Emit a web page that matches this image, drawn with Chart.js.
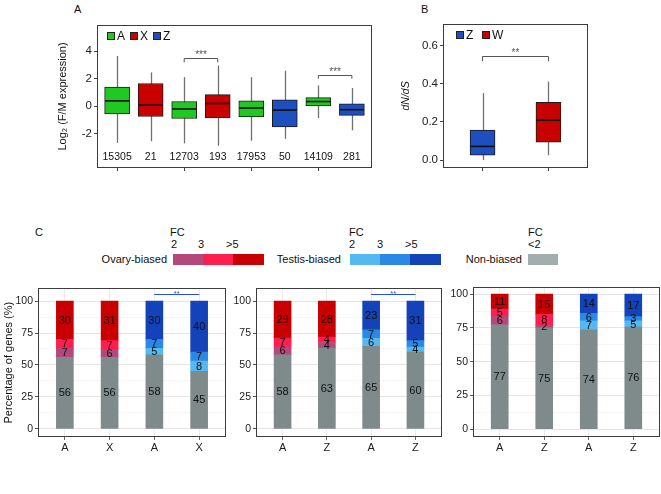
<!DOCTYPE html>
<html>
<head>
<meta charset="utf-8">
<script src="https://cdn.jsdelivr.net/npm/chart.js@4.4.0/dist/chart.umd.min.js"></script>
<style>
body { margin:0; width:661px; height:494px; position:relative; background:#fff; overflow:hidden;
       font-family:"Liberation Sans", Arial, sans-serif; }
canvas, .t, .sw { position:absolute; }
.t { font-size:11px; color:#111; line-height:11px; white-space:nowrap; }
.r { text-align:right; }
.sw { height:11px; }
</style>
</head>
<body>
<div class="t" style="left:74px;top:4px">A</div>
<div class="t" style="left:421px;top:4px">B</div>
<div class="t" style="left:35px;top:227px">C</div>

<!-- panel C legend -->
<div class="t" style="left:170px;top:227px">FC</div>
<div class="t" style="left:171px;top:239px">2</div>
<div class="t" style="left:198px;top:239px">3</div>
<div class="t" style="left:226px;top:239px">&gt;5</div>
<div class="t r" style="left:67px;width:100px;top:254px">Ovary-biased</div>
<div class="sw" style="left:173px;width:30px;top:254px;background:#b3497a"></div>
<div class="sw" style="left:203px;width:30px;top:254px;background:#ff1f4f"></div>
<div class="sw" style="left:233px;width:31px;top:254px;background:#c80000"></div>

<div class="t" style="left:349px;top:227px">FC</div>
<div class="t" style="left:349px;top:239px">2</div>
<div class="t" style="left:377px;top:239px">3</div>
<div class="t" style="left:405px;top:239px">&gt;5</div>
<div class="t r" style="left:241px;width:100px;top:254px">Testis-biased</div>
<div class="sw" style="left:350px;width:30px;top:254px;background:#56b8f0"></div>
<div class="sw" style="left:380px;width:30px;top:254px;background:#2b88e4"></div>
<div class="sw" style="left:410px;width:31px;top:254px;background:#1442b8"></div>

<div class="t" style="left:528px;top:227px">FC</div>
<div class="t" style="left:528px;top:239px">&lt;2</div>
<div class="t r" style="left:422px;width:100px;top:254px">Non-biased</div>
<div class="sw" style="left:528px;width:30px;top:254px;background:#a3adad"></div>

<canvas id="chartA" width="320" height="180" style="left:56px;top:16px"></canvas>
<canvas id="chartB" width="192" height="181" style="left:400px;top:15px"></canvas>
<canvas id="chartC1" width="230" height="176" style="left:0px;top:280px"></canvas>
<canvas id="chartC2" width="220" height="176" style="left:226px;top:280px"></canvas>
<canvas id="chartC3" width="215" height="177" style="left:446px;top:279px"></canvas>

<script>
// ---- panel A: log2 F/M expression boxes ----
var aGroups = ['A', 'X', 'A', 'X', 'A', 'Z', 'A', 'Z'];
var aWhiskLo = [-2.67, -2.55, -2.71, -2.88, -2.52, -2.38, -0.88, -1.76];
var aQ1 = [-0.57, -0.76, -0.90, -0.86, -0.79, -1.52, 0.02, -0.67];
var aMedian = [0.38, 0.07, -0.21, 0.19, -0.14, -0.29, 0.33, -0.26];
var aQ3 = [1.38, 1.64, 0.33, 0.83, 0.38, 0.45, 0.62, 0.17];
var aWhiskHi = [3.64, 2.45, 2.10, 2.95, 2.10, 2.57, 1.50, 1.31];
var aCounts = ['15305', '21', '12703', '193', '17953', '50', '14109', '281'];
var aSig = [{from: 2, to: 3, y: 3.48, drop: 0.3, label: '***'},
            {from: 6, to: 7, y: 2.29, drop: 0.3, label: '***'}];

// ---- panel B: dN/dS ----
var bGroups = ['Z', 'W'];
var bWhiskLo = [0.0, 0.026];
var bQ1 = [0.026, 0.094];
var bMedian = [0.072, 0.209];
var bQ3 = [0.158, 0.303];
var bWhiskHi = [0.351, 0.411];
var bSig = [{from: 0, to: 1, y: 0.543, drop: 0.025, label: '**'}];

// ---- panel C: percentage of sex-biased genes ----
// bars: ovary A, ovary X/Z, testis A, testis X/Z (segment heights as read, labels are rounded)
var turtleLabels = ['A', 'X', 'A', 'X'];
var turtleNon = [56, 56, 58, 45];
var turtleFc2 = [7, 6, 5, 8];
var turtleFc3 = [7, 7, 7, 7];
var turtleFc5 = [30, 31, 30, 40];

var newtLabels = ['A', 'Z', 'A', 'Z'];
var newtNon = [58, 63.3, 64.6, 60];
var newtFc2 = [6, 4.3, 6.3, 4];
var newtFc3 = [7, 4.3, 6.6, 5];
var newtFc5 = [29, 28.1, 22.5, 31];

var lizardLabels = ['A', 'Z', 'A', 'Z'];
var lizardNon = [77.3, 75, 73.6, 75.6];
var lizardFc2 = [6.3, 2, 6.6, 4.6];
var lizardFc3 = [5.3, 8, 5.6, 3.2];
var lizardFc5 = [11.1, 15, 14.2, 16.6];

var groupColors = {A: '#22c822', X: '#c80000', Z: '#1f4fbf', W: '#c80000'};
var ovaryCols = ['#b3497a', '#ff1f4f', '#c80000'];
var testisCols = ['#56b8f0', '#2b88e4', '#1442b8'];
var grayCol = '#7f8b8b';

Chart.defaults.font.family = '"Liberation Sans", Arial, sans-serif';
Chart.defaults.color = '#222';

var framePlugin = {
  id: 'frame',
  afterDraw: function(chart) {
    var a = chart.chartArea, ctx = chart.ctx;
    ctx.save();
    ctx.strokeStyle = '#3c3c3c';
    ctx.lineWidth = 1;
    ctx.strokeRect(Math.round(a.left) + 0.5, Math.round(a.top) + 0.5,
                   Math.round(a.right - a.left) - 1, Math.round(a.bottom - a.top) - 1);
    ctx.restore();
  }
};

function boxPlugin(lo, med, hi) {
  return {
    id: 'boxes',
    beforeDatasetsDraw: function(chart) {
      var ctx = chart.ctx, x = chart.scales.x, y = chart.scales.y;
      ctx.save();
      ctx.strokeStyle = '#707070';
      ctx.lineWidth = 1.3;
      lo.forEach(function(v, i) {
        var px = Math.round(x.getPixelForValue(i)) + 0.5;
        ctx.beginPath();
        ctx.moveTo(px, y.getPixelForValue(hi[i]));
        ctx.lineTo(px, y.getPixelForValue(v));
        ctx.stroke();
      });
      ctx.restore();
    },
    afterDatasetsDraw: function(chart) {
      var ctx = chart.ctx, x = chart.scales.x, y = chart.scales.y;
      ctx.save();
      ctx.strokeStyle = '#111';
      ctx.lineWidth = 1.6;
      med.forEach(function(v, i) {
        var px = x.getPixelForValue(i), py = y.getPixelForValue(v);
        ctx.beginPath();
        ctx.moveTo(px - 12, py);
        ctx.lineTo(px + 12, py);
        ctx.stroke();
      });
      ctx.restore();
    }
  };
}

function sigPlugin(list, color, fontSize, gap) {
  return {
    id: 'sig',
    afterDatasetsDraw: function(chart) {
      var ctx = chart.ctx, x = chart.scales.x, y = chart.scales.y;
      ctx.save();
      ctx.strokeStyle = color;
      ctx.fillStyle = color;
      ctx.lineWidth = 1;
      ctx.font = fontSize + 'px "Liberation Sans", Arial, sans-serif';
      ctx.textAlign = 'center';
      ctx.textBaseline = 'alphabetic';
      list.forEach(function(s) {
        var x0 = x.getPixelForValue(s.from), x1 = x.getPixelForValue(s.to);
        var py = Math.round(y.getPixelForValue(s.y)) + 0.5;
        var pd = y.getPixelForValue(s.y - s.drop);
        ctx.beginPath();
        ctx.moveTo(x0, pd);
        ctx.lineTo(x0, py);
        ctx.lineTo(x1, py);
        ctx.lineTo(x1, pd);
        ctx.stroke();
        ctx.fillText(s.label, (x0 + x1) / 2, py + gap);
      });
      ctx.restore();
    }
  };
}

function insideLegend(names, dx, step) {
  return {
    id: 'inlegend',
    afterDraw: function(chart) {
      var ctx = chart.ctx, a = chart.chartArea;
      ctx.save();
      ctx.font = '12px "Liberation Sans", Arial, sans-serif';
      ctx.textBaseline = 'middle';
      names.forEach(function(n, i) {
        var lx = Math.round(a.left + dx + i * step), ly = Math.round(a.top + 11);
        ctx.fillStyle = groupColors[n];
        ctx.fillRect(lx, ly - 4, 8, 8);
        ctx.strokeStyle = '#222';
        ctx.lineWidth = 1;
        ctx.strokeRect(lx + 0.5, ly - 3.5, 7, 7);
        ctx.fillStyle = '#111';
        ctx.fillText(n, lx + 10, ly + 0.5);
      });
      ctx.restore();
    }
  };
}

var countPlugin = {
  id: 'counts',
  afterDatasetsDraw: function(chart) {
    var ctx = chart.ctx, x = chart.scales.x, y = chart.scales.y;
    ctx.save();
    ctx.fillStyle = '#111';
    ctx.font = '10.5px "Liberation Sans", Arial, sans-serif';
    ctx.textAlign = 'center';
    ctx.textBaseline = 'middle';
    aCounts.forEach(function(c, i) {
      ctx.fillText(c, x.getPixelForValue(i), y.getPixelForValue(-3.71));
    });
    ctx.restore();
  }
};

function boxDatasets(groups, q1, q3, names) {
  return names.map(function(g) {
    var pts = [];
    groups.forEach(function(gg, i) {
      if (gg === g) pts.push({x: i, y: [q1[i], q3[i]]});
    });
    return {
      label: g, data: pts, backgroundColor: groupColors[g],
      borderColor: '#1a1a1a', borderWidth: 1, borderSkipped: false,
      barThickness: 25, grouped: false
    };
  });
}

function tickSet(vals) {
  return function(s) { s.ticks = vals.map(function(v) { return {value: v}; }); };
}

// panel A
new Chart(document.getElementById('chartA'), {
  type: 'bar',
  data: {datasets: boxDatasets(aGroups, aQ1, aQ3, ['A', 'X', 'Z'])},
  options: {
    responsive: false,
    animation: false,
    layout: {padding: {top: 6, right: 4, left: 0, bottom: 0}},
    plugins: {legend: {display: false}, tooltip: {enabled: false}},
    scales: {
      x: {type: 'linear', offset: false, min: -0.6, max: 7.6, afterBuildTicks: tickSet([0, 2, 4, 6]),
          ticks: {callback: function() { return ''; }},
          grid: {offset: false, drawOnChartArea: false, tickLength: 3, tickColor: '#444'},
          border: {display: false},
          afterFit: function(s) { s.height = 28; }},
      y: {min: -4.5, max: 5.9, afterBuildTicks: tickSet([-2, 0, 2, 4]),
          ticks: {font: {size: 11.5}, color: '#222', padding: 2},
          grid: {drawOnChartArea: false, tickLength: 3, tickColor: '#444'},
          border: {display: false},
          title: {display: true, text: 'Log\u2082 (F/M expression)', font: {size: 11}, color: '#111', padding: 0},
          afterFit: function(s) { s.width = 41; }}
    }
  },
  plugins: [boxPlugin(aWhiskLo, aMedian, aWhiskHi), sigPlugin(aSig, '#555', 10, -1),
            countPlugin, insideLegend(['A', 'X', 'Z'], 10, 23), framePlugin]
});

// panel B
new Chart(document.getElementById('chartB'), {
  type: 'bar',
  data: {datasets: boxDatasets(bGroups, bQ1, bQ3, ['Z', 'W'])},
  options: {
    responsive: false,
    animation: false,
    layout: {padding: {top: 6, right: 4, left: 0, bottom: 0}},
    plugins: {legend: {display: false}, tooltip: {enabled: false}},
    scales: {
      x: {type: 'linear', offset: false, min: -0.6, max: 1.6, afterBuildTicks: tickSet([0, 1]),
          ticks: {callback: function() { return ''; }},
          grid: {offset: false, drawOnChartArea: false, tickLength: 3, tickColor: '#444'},
          border: {display: false},
          afterFit: function(s) { s.height = 28; }},
      y: {min: -0.041, max: 0.713, afterBuildTicks: tickSet([0, 0.2, 0.4, 0.6]),
          ticks: {font: {size: 11.5}, color: '#222', padding: 2,
                  callback: function(v) { return v.toFixed(1); }},
          grid: {drawOnChartArea: false, tickLength: 3, tickColor: '#444'},
          border: {display: false},
          title: {display: true, text: 'dN/dS', font: {size: 10.5, style: 'italic'}, color: '#111', padding: 0},
          afterFit: function(s) { s.width = 43; }}
    }
  },
  plugins: [boxPlugin(bWhiskLo, bMedian, bWhiskHi), sigPlugin(bSig, '#555', 10, -1),
            insideLegend(['Z', 'W'], 13, 26), framePlugin]
});

// panel C
var stackLabelPlugin = {
  id: 'stackLabels',
  afterDatasetsDraw: function(chart) {
    var ctx = chart.ctx;
    ctx.save();
    ctx.fillStyle = '#111';
    ctx.font = '11px "Liberation Sans", Arial, sans-serif';
    ctx.textAlign = 'center';
    ctx.textBaseline = 'middle';
    chart.data.datasets.forEach(function(ds, di) {
      chart.getDatasetMeta(di).data.forEach(function(el, i) {
        var p = el.getProps(['x', 'y', 'base'], true);
        ctx.fillText(String(Math.round(ds.data[i].y)), p.x, (p.y + p.base) / 2 + 0.5);
      });
    });
    ctx.restore();
  }
};

function pts(vals) {
  return vals.map(function(v, i) { return {x: i, y: v}; });
}

function stackChart(id, labels, non, fc2, fc3, fc5, yMax, yMin, axisW, padRight, sig, title) {
  var segCol = function(k) { return [ovaryCols[k], ovaryCols[k], testisCols[k], testisCols[k]]; };
  var mk = function(vals, col) {
    return {data: pts(vals), backgroundColor: col, borderWidth: 0, barThickness: 17};
  };
  var major = function(c) { return c.tick && c.tick.value % 25 === 0; };
  var plugins = [stackLabelPlugin, framePlugin];
  if (sig) plugins.unshift(sigPlugin(sig, '#2653d6', 7.5, 1));
  new Chart(document.getElementById(id), {
    type: 'bar',
    data: {datasets: [mk(non, grayCol), mk(fc2, segCol(0)), mk(fc3, segCol(1)), mk(fc5, segCol(2))]},
    options: {
      responsive: false,
      animation: false,
      layout: {padding: {top: 6, right: padRight, left: 0, bottom: 0}},
      plugins: {legend: {display: false}, tooltip: {enabled: false}},
      scales: {
        x: {type: 'linear', offset: false, stacked: true, min: -0.6, max: 3.6, afterBuildTicks: tickSet([0, 1, 2, 3]),
            ticks: {font: {size: 11}, color: '#222', padding: 1,
                    callback: function(v) { return labels[v]; }},
            grid: {offset: false, color: '#e4e4e4', lineWidth: 0.8, tickLength: 3, tickColor: '#444'},
            border: {display: false},
            afterFit: function(s) { s.height = 19; }},
        y: {stacked: true, min: yMin, max: yMax,
            afterBuildTicks: tickSet([0, 12.5, 25, 37.5, 50, 62.5, 75, 87.5, 100]),
            ticks: {font: {size: 10.5}, color: '#222', padding: 2,
                    callback: function(v) { return v % 25 === 0 ? v : ''; }},
            grid: {color: function(c) { return major(c) ? '#e2e2e2' : '#efefef'; },
                   lineWidth: function(c) { return major(c) ? 0.9 : 0.6; },
                   tickLength: 3,
                   tickColor: function(c) { return major(c) ? '#444' : 'rgba(0,0,0,0)'; }},
            border: {display: false},
            title: {display: !!title, text: title || '', font: {size: 11}, color: '#111', padding: 2},
            afterFit: function(s) { s.width = axisW; }}
      }
    },
    plugins: plugins
  });
}

var cSig = [{from: 2, to: 3, y: 105.4, drop: 0, label: '**'}];
stackChart('chartC1', turtleLabels, turtleNon, turtleFc2, turtleFc3, turtleFc5, 110, -6.4, 38, 4, cSig, 'Percentage of genes (%)');
stackChart('chartC2', newtLabels, newtNon, newtFc2, newtFc3, newtFc5, 110, -6.4, 30, 4, cSig, null);
stackChart('chartC3', lizardLabels, lizardNon, lizardFc2, lizardFc3, lizardFc5, 105.1, -5.8, 27, 1, null, null);
</script>
</body>
</html>
